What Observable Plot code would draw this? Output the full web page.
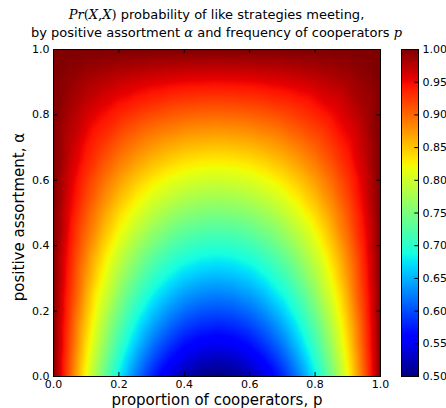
<!DOCTYPE html>
<html>
<head>
<meta charset="utf-8">
<script src="https://cdn.jsdelivr.net/npm/d3@7"></script>
<script src="https://cdn.jsdelivr.net/npm/@observablehq/plot@0.6"></script>
<style>
  html, body { margin: 0; padding: 0; background: white; }
  #wrap { position: relative; width: 446px; height: 408px; display: flex; font-family: "DejaVu Sans", sans-serif; }
  .t { position: absolute; left: 0; width: 433px; text-align: center; font-size: 13px; line-height: 18px; color: black; z-index: 2; white-space: nowrap; }
  .m { font-family: "DejaVu Serif", serif; font-style: italic; }
  .u { font-family: "DejaVu Serif", serif; }
</style>
</head>
<body>
<div id="wrap">
  <div class="t" style="top:6px"><span class="m">Pr</span><span class="u">(</span><span class="m">X</span><span class="u">,</span><span class="m">X</span><span class="u">)</span> probability of like strategies meeting,</div>
  <div class="t" style="top:24px">by positive assortment <span class="m">α</span> and frequency of cooperators <span class="m">p</span></div>
</div>
<script>
// proportion of cooperators (columns)
const pValues = [0, 0.05, 0.1, 0.15, 0.2, 0.25, 0.3, 0.35, 0.4, 0.45, 0.5, 0.55, 0.6, 0.65, 0.7, 0.75, 0.8, 0.85, 0.9, 0.95, 1];
// positive assortment (rows)
const alphaValues = [0, 0.1, 0.2, 0.3, 0.4, 0.5, 0.6, 0.7, 0.8, 0.9, 1];
// Pr(X,X) read per (alpha row, p column)
const prValues = [
  [1, 0.905, 0.82, 0.745, 0.68, 0.625, 0.58, 0.545, 0.52, 0.505, 0.5, 0.505, 0.52, 0.545, 0.58, 0.625, 0.68, 0.745, 0.82, 0.905, 1],
  [1, 0.915, 0.838, 0.771, 0.712, 0.663, 0.622, 0.591, 0.568, 0.555, 0.55, 0.555, 0.568, 0.591, 0.622, 0.663, 0.712, 0.771, 0.838, 0.915, 1],
  [1, 0.924, 0.856, 0.796, 0.744, 0.7, 0.664, 0.636, 0.616, 0.604, 0.6, 0.604, 0.616, 0.636, 0.664, 0.7, 0.744, 0.796, 0.856, 0.924, 1],
  [1, 0.934, 0.874, 0.822, 0.776, 0.738, 0.706, 0.682, 0.664, 0.654, 0.65, 0.654, 0.664, 0.682, 0.706, 0.738, 0.776, 0.822, 0.874, 0.934, 1],
  [1, 0.943, 0.892, 0.847, 0.808, 0.775, 0.748, 0.727, 0.712, 0.703, 0.7, 0.703, 0.712, 0.727, 0.748, 0.775, 0.808, 0.847, 0.892, 0.943, 1],
  [1, 0.953, 0.91, 0.873, 0.84, 0.813, 0.79, 0.773, 0.76, 0.753, 0.75, 0.753, 0.76, 0.773, 0.79, 0.813, 0.84, 0.873, 0.91, 0.953, 1],
  [1, 0.962, 0.928, 0.898, 0.872, 0.85, 0.832, 0.818, 0.808, 0.802, 0.8, 0.802, 0.808, 0.818, 0.832, 0.85, 0.872, 0.898, 0.928, 0.962, 1],
  [1, 0.972, 0.946, 0.924, 0.904, 0.888, 0.874, 0.864, 0.856, 0.852, 0.85, 0.852, 0.856, 0.864, 0.874, 0.888, 0.904, 0.924, 0.946, 0.972, 1],
  [1, 0.981, 0.964, 0.949, 0.936, 0.925, 0.916, 0.909, 0.904, 0.901, 0.9, 0.901, 0.904, 0.909, 0.916, 0.925, 0.936, 0.949, 0.964, 0.981, 1],
  [1, 0.991, 0.982, 0.975, 0.968, 0.963, 0.958, 0.955, 0.952, 0.951, 0.95, 0.951, 0.952, 0.955, 0.958, 0.963, 0.968, 0.975, 0.982, 0.991, 1],
  [1, 1, 1, 1, 1, 1, 1, 1, 1, 1, 1, 1, 1, 1, 1, 1, 1, 1, 1, 1, 1]
];
const xTicks = [0, 0.2, 0.4, 0.6, 0.8, 1.0];
const yTicks = [0, 0.2, 0.4, 0.6, 0.8, 1.0];
const cbTicks = [0.5, 0.55, 0.6, 0.65, 0.7, 0.75, 0.8, 0.85, 0.9, 0.95, 1.0];
const xLabel = "proportion of cooperators, p";
const yLabel = "positive assortment, α";

const data = alphaValues.flatMap((a, i) => pValues.map((p, j) => ({p, a, v: prValues[i][j]})));

// matplotlib "jet" colormap segments
function seg(t, pts) {
  for (let i = 1; i < pts.length; i++) {
    if (t <= pts[i][0]) {
      const [x0, y0] = pts[i - 1], [x1, y1] = pts[i];
      return y0 + (y1 - y0) * (t - x0) / (x1 - x0);
    }
  }
  return pts[pts.length - 1][1];
}
function jet(t) {
  t = Math.max(0, Math.min(1, t));
  const r = seg(t, [[0, 0], [0.35, 0], [0.66, 1], [0.89, 1], [1, 0.5]]);
  const g = seg(t, [[0, 0], [0.125, 0], [0.375, 1], [0.64, 1], [0.91, 0], [1, 0]]);
  const b = seg(t, [[0, 0.5], [0.11, 1], [0.34, 1], [0.65, 0], [1, 0]]);
  return `rgb(${Math.round(r * 255)},${Math.round(g * 255)},${Math.round(b * 255)})`;
}
const colorScale = {type: "linear", domain: [0.5, 1], interpolate: jet};
const fmt1 = d3.format(".1f");
const fmt2 = d3.format(".2f");

const main = Plot.plot({
  width: 390, height: 408,
  marginLeft: 53, marginRight: 10, marginTop: 49, marginBottom: 32,
  x: {domain: [0, 1]},
  y: {domain: [0, 1]},
  color: colorScale,
  style: {fontFamily: "DejaVu Sans", fontSize: "11px", background: "white", color: "black"},
  marks: [
    Plot.raster(data, {x: "p", y: "a", fill: "v", interpolate: "barycentric"}),
    Plot.frame({stroke: "black", strokeWidth: 1}),
    Plot.ruleX(xTicks, {x: d => d, y1: 0, y2: 0.012, stroke: "black"}),
    Plot.ruleX(xTicks, {x: d => d, y1: 0.988, y2: 1, stroke: "black"}),
    Plot.ruleY(yTicks, {y: d => d, x1: 0, x2: 0.012, stroke: "black"}),
    Plot.ruleY(yTicks, {y: d => d, x1: 0.988, x2: 1, stroke: "black"}),
    Plot.axisX({ticks: xTicks, tickFormat: fmt1, tickSize: 0, tickPadding: 4, label: null, fontSize: 11}),
    Plot.axisY({ticks: yTicks, tickFormat: fmt1, tickSize: 0, tickPadding: 4, label: null, fontSize: 11}),
    Plot.text([xLabel], {text: d => d, frameAnchor: "bottom", lineAnchor: "middle", textAnchor: "middle", dy: 24, fontSize: 15}),
    Plot.text([yLabel], {text: d => d, frameAnchor: "left", textAnchor: "middle", lineAnchor: "middle", dx: -34, dy: 4, rotate: -90, fontSize: 15})
  ]
});

const cbar = Plot.plot({
  width: 56, height: 408,
  marginLeft: 11, marginRight: 28, marginTop: 49, marginBottom: 32,
  x: {domain: [0, 1], axis: null},
  y: {domain: [0.5, 1]},
  color: colorScale,
  style: {fontFamily: "DejaVu Sans", fontSize: "11px", background: "white", color: "black", overflow: "visible"},
  marks: [
    Plot.raster({fill: (x, y) => y, x1: 0, x2: 1, y1: 0.5, y2: 1}),
    Plot.frame({stroke: "black", strokeWidth: 1}),
    Plot.ruleY(cbTicks, {y: d => d, x1: 0.78, x2: 1, stroke: "black"}),
    Plot.axisY({anchor: "right", ticks: cbTicks, tickFormat: fmt2, tickSize: 0, tickPadding: 4, label: null, fontSize: 11})
  ]
});

const wrap = document.getElementById("wrap");
wrap.appendChild(main);
wrap.appendChild(cbar);
</script>
</body>
</html>
